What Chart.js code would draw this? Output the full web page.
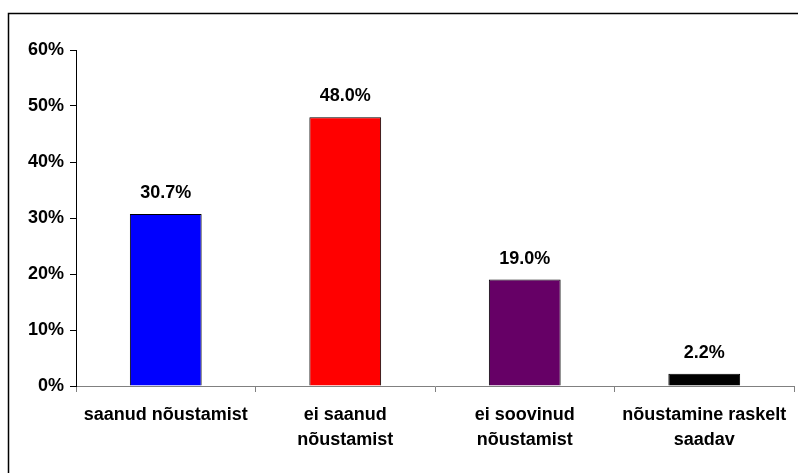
<!DOCTYPE html>
<html>
<head>
<meta charset="utf-8">
<script src="https://cdn.jsdelivr.net/npm/chart.js@4/dist/chart.umd.min.js"></script>
<style>
  html, body { margin: 0; padding: 0; background: #fff; }
  #wrap { width: 798px; height: 473px; }
</style>
</head>
<body>
<div id="wrap"><canvas id="myChart" width="798" height="473"></canvas></div>
<script>
// data
var categories = [
    'saanud nõustamist',
    ['ei saanud', 'nõustamist'],
    ['ei soovinud', 'nõustamist'],
    ['nõustamine raskelt', 'saadav']
];
var values = [30.7, 48.0, 19.0, 2.2];
var barColors = ['#0000ff', '#ff0000', '#660066', '#000000'];
var yTicks = [0, 10, 20, 30, 40, 50, 60];

var FONT = '"Liberation Sans", Arial, sans-serif';

// frame around the picture
var framePlugin = {
    id: 'frame',
    beforeDraw: function(chart) {
        var c = chart.ctx;
        c.save();
        c.fillStyle = '#fff';
        c.fillRect(0, 0, chart.width, chart.height);
        c.strokeStyle = '#000';
        c.lineWidth = 1.5;
        c.strokeRect(8.5, 13.5, 820, 500);
        c.restore();
    }
};

// value labels above the bars
var labelPlugin = {
    id: 'valueLabels',
    afterDatasetsDraw: function(chart) {
        var c = chart.ctx;
        var meta = chart.getDatasetMeta(0);
        c.save();
        c.font = 'bold 18px ' + FONT;
        c.fillStyle = '#000';
        c.textAlign = 'center';
        c.textBaseline = 'alphabetic';
        meta.data.forEach(function(bar, i) {
            c.fillText(values[i].toFixed(1) + '%', bar.x, bar.y - 16);
        });
        c.restore();
    }
};

var ctx = document.getElementById('myChart').getContext('2d');
var myChart = new Chart(ctx, {
    type: 'bar',
    data: {
        labels: categories,
        datasets: [{
            data: values,
            backgroundColor: barColors,
            borderColor: '#000',
            borderWidth: 1,
            categoryPercentage: 1,
            barPercentage: 0.4
        }]
    },
    options: {
        responsive: false,
        animation: false,
        layout: { padding: { top: 50, right: 4, left: 0, bottom: 0 } },
        plugins: {
            legend: { display: false },
            tooltip: { enabled: false }
        },
        scales: {
            x: {
                grid: {
                    offset: true,
                    drawOnChartArea: false,
                    drawTicks: true,
                    tickLength: 6,
                    color: '#808080'
                },
                border: { color: '#808080', width: 1 },
                ticks: {
                    color: '#000',
                    font: { family: FONT, size: 18, weight: 'bold', lineHeight: 1.4 },
                    padding: 10,
                    maxRotation: 0,
                    autoSkip: false
                },
                afterFit: function(scale) { scale.height = 87; }
            },
            y: {
                min: 0,
                max: 60,
                afterBuildTicks: function(scale) {
                    scale.ticks = yTicks.map(function(v) { return { value: v }; });
                },
                grid: {
                    drawOnChartArea: false,
                    drawTicks: true,
                    tickLength: 6,
                    color: '#000'
                },
                border: { color: '#000', width: 1 },
                ticks: {
                    color: '#000',
                    padding: 6,
                    font: { family: FONT, size: 18, weight: 'bold' },
                    callback: function(v) { return v + '%'; }
                },
                afterFit: function(scale) { scale.width = 76; }
            }
        }
    },
    plugins: [framePlugin, labelPlugin]
});
</script>
</body>
</html>
